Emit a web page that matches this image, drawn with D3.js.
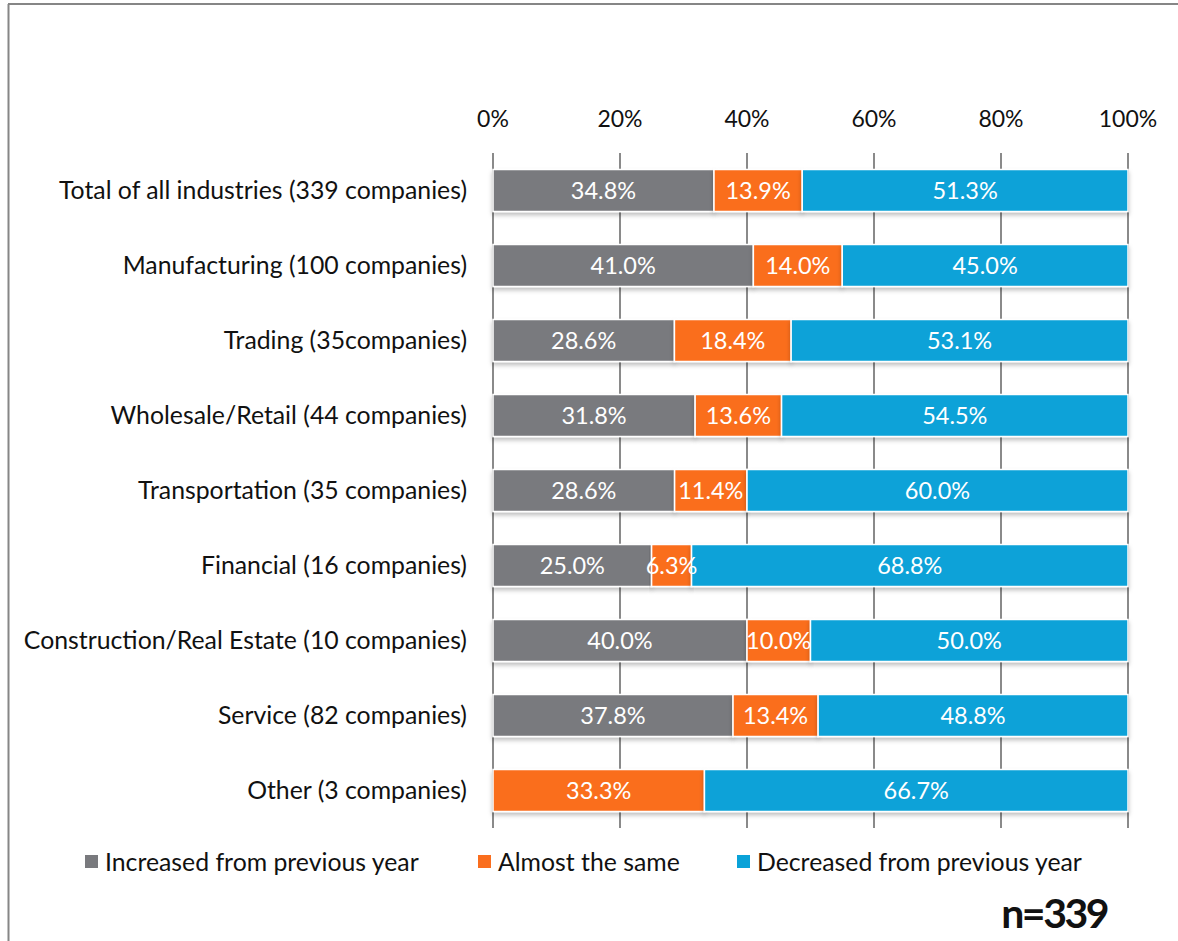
<!DOCTYPE html>
<html>
<head>
<meta charset="utf-8">
<script src="https://cdn.jsdelivr.net/npm/d3@7"></script>
<style>
  body { margin: 0; background: #fff; }
  svg { display: block; font-family: Lato, "Open Sans", sans-serif; }
</style>
</head>
<body>
<div id="chart"></div>
<script>
const categories = [
    "Total of all industries (339 companies)",
    "Manufacturing (100 companies)",
    "Trading (35companies)",
    "Wholesale/Retail (44 companies)",
    "Transportation (35 companies)",
    "Financial (16 companies)",
    "Construction/Real Estate (10 companies)",
    "Service (82 companies)",
    "Other (3 companies)"
];
const increased = [34.8, 41.0, 28.6, 31.8, 28.6, 25.0, 40.0, 37.8, 0];
const same = [13.9, 14.0, 18.4, 13.6, 11.4, 6.3, 10.0, 13.4, 33.3];
const decreased = [51.3, 45.0, 53.1, 54.5, 60.0, 68.8, 50.0, 48.8, 66.7];
const seriesNames = ["Increased from previous year", "Almost the same", "Decreased from previous year"];
const tickValues = [0, 0.2, 0.4, 0.6, 0.8, 1];

const colors = ["#797a7e", "#fa6e1e", "#0aa2d8"];
const keys = ["inc", "same", "dec"];

const W = 1178, H = 941;
const plotLeft = 493, plotRight = 1128, plotTop = 153, plotBottom = 828;

const rows = categories.map((c, i) => ({
    cat: c, inc: increased[i], same: same[i], dec: decreased[i]
}));

const svg = d3.select("#chart").append("svg")
    .attr("width", W)
    .attr("height", H);

const defs = svg.append("defs");
const f = defs.append("filter").attr("id", "shadow")
    .attr("x", "-5%").attr("y", "-20%").attr("width", "110%").attr("height", "160%");
f.append("feDropShadow")
    .attr("dx", 0).attr("dy", 3)
    .attr("stdDeviation", 2)
    .attr("flood-color", "#000")
    .attr("flood-opacity", 0.25);

// frame
svg.append("line")
    .attr("x1", 8).attr("x2", W).attr("y1", 4).attr("y2", 4)
    .attr("stroke", "#868686").attr("stroke-width", 2);
svg.append("line")
    .attr("x1", 8.5).attr("x2", 8.5).attr("y1", 4).attr("y2", H)
    .attr("stroke", "#868686").attr("stroke-width", 2);

const x = d3.scaleLinear()
    .domain([0, 1])
    .range([plotLeft, plotRight]);

const y = d3.scaleBand()
    .domain(categories)
    .range([plotTop, plotBottom])
    .paddingInner(0.44)
    .paddingOuter(0.22);

// gridlines
svg.append("g")
    .selectAll("line")
    .data(tickValues)
    .enter()
    .append("line")
    .attr("x1", d => x(d))
    .attr("x2", d => x(d))
    .attr("y1", plotTop)
    .attr("y2", plotBottom)
    .attr("stroke", "#8a8a8a")
    .attr("stroke-width", 2);

// top tick labels
svg.append("g")
    .selectAll("text")
    .data(tickValues)
    .enter()
    .append("text")
    .attr("x", d => x(d))
    .attr("y", 127)
    .attr("text-anchor", "middle")
    .attr("font-size", 23)
    .attr("fill", "#111")
    .text(d => d3.format(".0%")(d));

// category labels
svg.append("g")
    .selectAll("text")
    .data(categories)
    .enter()
    .append("text")
    .attr("x", plotLeft - 26)
    .attr("y", d => y(d) + y.bandwidth() / 2)
    .attr("dy", "0.35em")
    .attr("text-anchor", "end")
    .attr("font-size", 24.8)
    .attr("fill", "#111")
    .text(d => d);

const stack = d3.stack().keys(keys).offset(d3.stackOffsetExpand);
const layers = stack(rows);

const layerG = svg.selectAll(".layer")
    .data(layers)
    .enter()
    .append("g")
    .attr("class", "layer")
    .attr("fill", (d, i) => colors[i]);

layerG.selectAll("rect")
    .data(d => d.filter(s => s[1] - s[0] > 0))
    .enter()
    .append("rect")
    .attr("x", d => x(d[0]))
    .attr("y", d => y(d.data.cat))
    .attr("width", d => x(d[1]) - x(d[0]))
    .attr("height", y.bandwidth())
    .attr("stroke", "#fff")
    .attr("stroke-width", 1.5)
    .attr("filter", "url(#shadow)");

layers.forEach((layer, li) => {
    const key = keys[li];
    svg.append("g")
        .selectAll("text")
        .data(layer.filter(s => s.data[key] > 0))
        .enter()
        .append("text")
        .attr("x", d => (x(d[0]) + x(d[1])) / 2)
        .attr("y", d => y(d.data.cat) + y.bandwidth() / 2)
        .attr("dy", "0.35em")
        .attr("text-anchor", "middle")
        .attr("font-size", 23.5)
        .attr("fill", "#fff")
        .text(d => d.data[key].toFixed(1) + "%");
});

// legend
const legendX = [85, 478, 737];
const legend = svg.append("g")
    .selectAll("g")
    .data(seriesNames)
    .enter()
    .append("g")
    .attr("transform", (d, i) => `translate(${legendX[i]},862)`);

legend.append("rect")
    .attr("x", 0).attr("y", -7)
    .attr("width", 13).attr("height", 13)
    .attr("fill", (d, i) => colors[i]);

legend.append("text")
    .attr("x", 20)
    .attr("y", 0)
    .attr("dy", "0.35em")
    .attr("font-size", 24.8)
    .attr("fill", "#111")
    .text(d => d);

svg.append("text")
    .attr("x", 1107)
    .attr("y", 928)
    .attr("text-anchor", "end")
    .attr("font-size", 41)
    .attr("font-weight", "bold")
    .attr("letter-spacing", -2.5)
    .attr("fill", "#111")
    .text("n=339");
</script>
</body>
</html>
